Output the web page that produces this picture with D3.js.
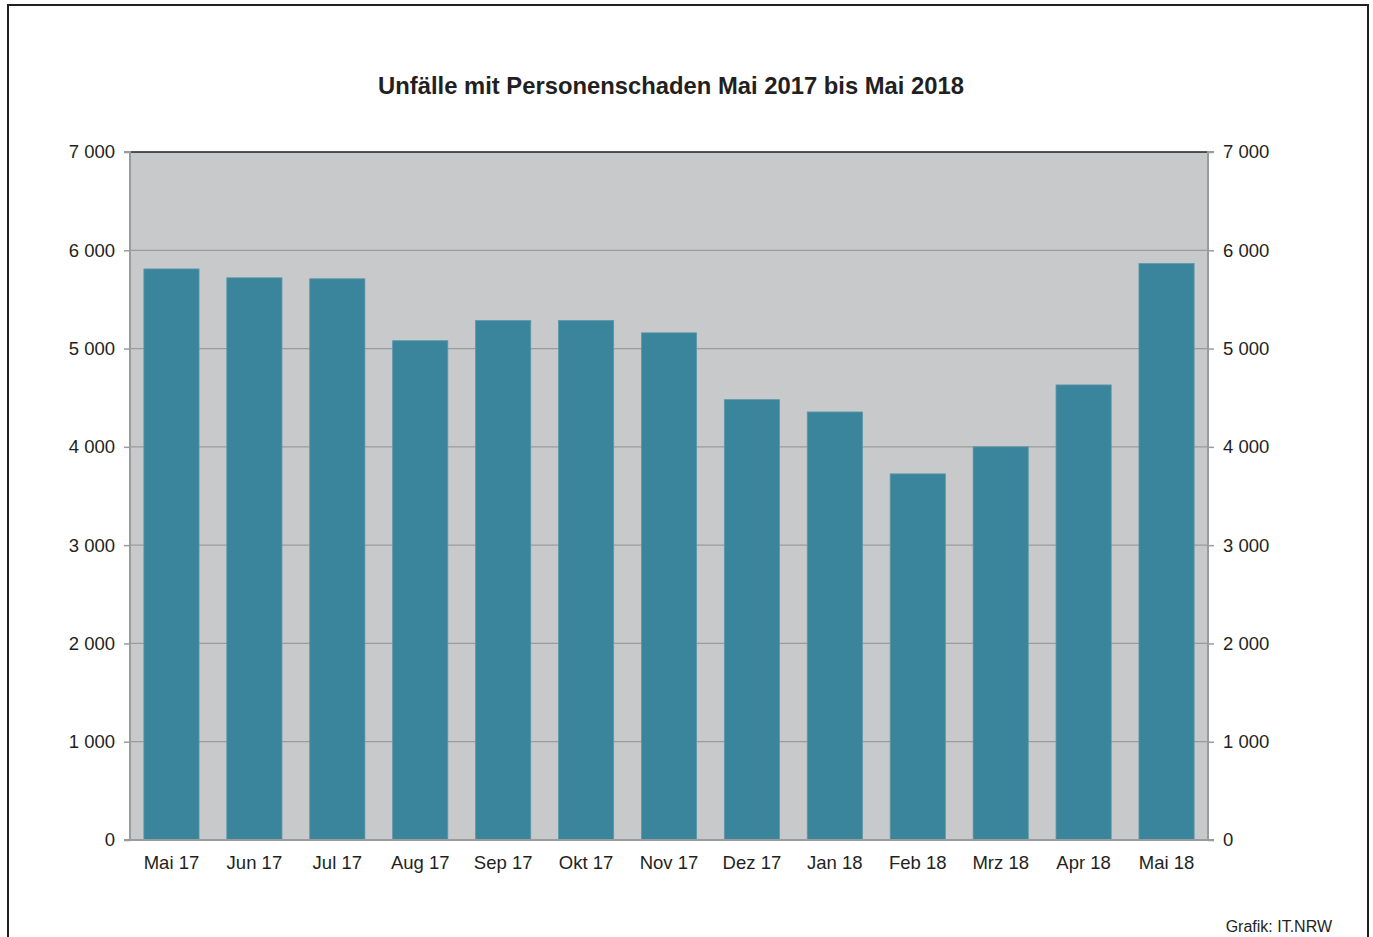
<!DOCTYPE html>
<html>
<head>
<meta charset="utf-8">
<script src="https://cdn.jsdelivr.net/npm/d3@7"></script>
<style>
    body { margin: 0; background: #fff; font-family: "Liberation Sans", Arial, sans-serif; }
    svg text { fill: #231f20; }
</style>
</head>
<body>
<div id="chart"></div>
<script>
//Datos
const MONATE = ['Mai 17','Jun 17','Jul 17','Aug 17','Sep 17','Okt 17','Nov 17','Dez 17','Jan 18','Feb 18','Mrz 18','Apr 18','Mai 18'];
const UNFAELLE = [5810, 5720, 5710, 5080, 5285, 5285, 5160, 4480, 4355, 3725, 4000, 4630, 5865];
const Y_TICKS = [0, 1000, 2000, 3000, 4000, 5000, 6000, 7000];

//Colores fijos
const COLOR_BAR = '#3a859b',
COLOR_BG = '#c8c9cb',
COLOR_GRID = '#9a9b9d';

let W = 1373, H = 937;
let margin = {top: 152, right: 165, bottom: 97, left: 130},
    width = W - margin.left - margin.right,
    height = H - margin.top - margin.bottom;

let root = d3.select('#chart').append('svg')
    .attr('width', W)
    .attr('height', H);

//Marco exterior
root.append('path')
    .attr('d', 'M8,940 V5 H1368 V940')
    .attr('fill', 'none')
    .attr('stroke', '#231f20')
    .attr('stroke-width', 2);

root.append('text')
    .attr('x', 671)
    .attr('y', 94)
    .attr('text-anchor', 'middle')
    .style('font-size', '23.8px')
    .style('font-weight', 'bold')
    .text('Unfälle mit Personenschaden Mai 2017 bis Mai 2018');

root.append('text')
    .attr('x', 1332)
    .attr('y', 932)
    .attr('text-anchor', 'end')
    .style('font-size', '16px')
    .text('Grafik: IT.NRW');

let svg = root.append('g')
    .attr('transform', 'translate(' + margin.left + ',' + margin.top + ')');

let x = d3.scaleBand()
    .domain(MONATE)
    .range([0, width])
    .paddingInner(0.335)
    .paddingOuter(0.1675);

let y = d3.scaleLinear()
    .domain([0, 7000])
    .range([height, 0]);

svg.append('rect')
    .attr('width', width)
    .attr('height', height)
    .attr('fill', COLOR_BG);

//Rejilla
svg.append('g')
    .selectAll('line')
    .data(Y_TICKS.filter(function(d) { return d > 0 && d < 7000; }))
    .enter()
    .append('line')
    .attr('x1', 0)
    .attr('x2', width)
    .attr('y1', function(d) { return y(d); })
    .attr('y2', function(d) { return y(d); })
    .attr('stroke', COLOR_GRID)
    .attr('stroke-width', 1.2);

svg.append('line')
    .attr('x1', 0).attr('x2', width)
    .attr('y1', 0).attr('y2', 0)
    .attr('stroke', '#231f20')
    .attr('stroke-width', 1.5);

svg.selectAll('.bar')
    .data(UNFAELLE)
    .enter()
    .append('rect')
    .attr('class', 'bar')
    .attr('x', function(d, i) { return x(MONATE[i]); })
    .attr('y', function(d) { return y(d); })
    .attr('width', x.bandwidth())
    .attr('height', function(d) { return height - y(d); })
    .attr('fill', COLOR_BAR)
    .attr('stroke', '#5a97aa')
    .attr('stroke-width', 0.8);

let fmt = function(d) { return d3.format(',')(d).replace(',', ' '); };

let yLeft = svg.append('g')
    .call(d3.axisLeft(y).tickValues(Y_TICKS).tickFormat(fmt).tickSize(6).tickPadding(9));
let yRight = svg.append('g')
    .attr('transform', 'translate(' + width + ',0)')
    .call(d3.axisRight(y).tickValues(Y_TICKS).tickFormat(fmt).tickSize(6).tickPadding(9));
let xAxis = svg.append('g')
    .attr('transform', 'translate(0,' + height + ')')
    .call(d3.axisBottom(x).tickSize(0).tickPadding(16));

[yLeft, yRight, xAxis].forEach(function(g) {
    g.selectAll('path.domain').attr('stroke', '#9a9b9d').attr('stroke-width', 2);
    g.selectAll('.tick line').attr('stroke', '#9a9b9d').attr('stroke-width', 1.5);
    g.selectAll('text')
        .style('font-size', '18.5px')
        .style('font-family', '"Liberation Sans", Arial, sans-serif')
        .attr('fill', '#231f20');
});
yLeft.select('path.domain').attr('d', 'M-6,0H0V' + height + 'H-6');
yRight.select('path.domain').attr('d', 'M6,0H0V' + height + 'H6');
xAxis.select('path.domain').attr('d', 'M0,0H' + width);
xAxis.selectAll('text').attr('dy', '0.71em');
</script>
</body>
</html>
